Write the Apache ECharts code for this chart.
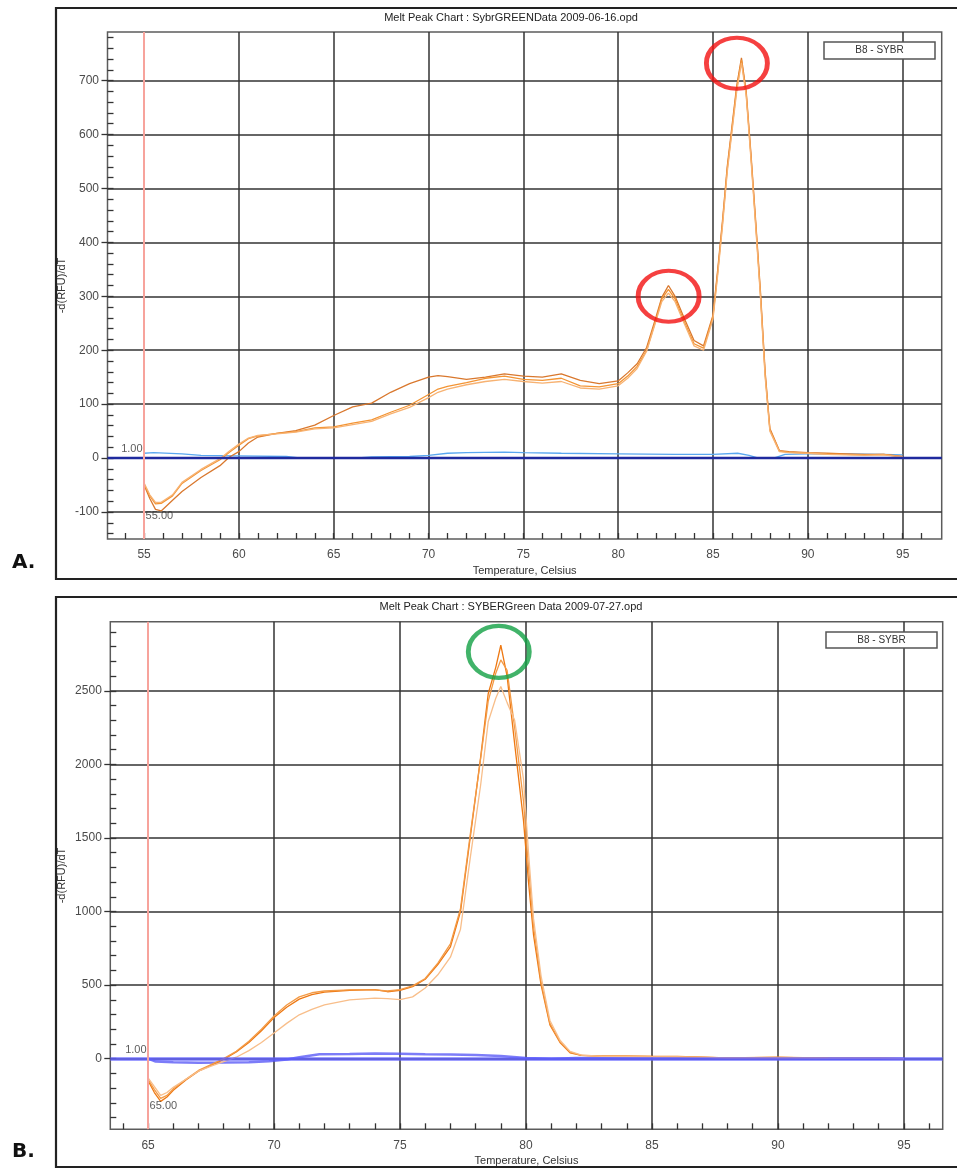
<!DOCTYPE html>
<html><head><meta charset="utf-8">
<script src="https://cdn.jsdelivr.net/npm/echarts@6/dist/echarts.min.js"></script>
<style>html,body{margin:0;padding:0;background:#fff}#c{width:957px;height:1169px}</style>
</head><body><div id="c"></div>
<script>
// ---------- DATA ----------
const TITLE_A = 'Melt Peak Chart : SybrGREENData 2009-06-16.opd';
const TITLE_B = 'Melt Peak Chart : SYBERGreen Data 2009-07-27.opd';
const LEGEND_TEXT = 'B8 - SYBR';
const X_NAME = 'Temperature, Celsius';
const Y_NAME = '-d(RFU)/dT';

// Panel A temperatures and curves
const T_A = [55.0, 55.3, 55.6, 55.9, 56.5, 57, 58, 59, 59.5, 60, 60.5, 61, 62, 63, 64, 65, 66, 67, 68, 69, 70, 70.5, 71, 72, 73, 74, 75, 76, 77, 78, 79, 80, 80.5, 81, 81.5, 82, 82.3, 82.65, 83, 83.5, 84, 84.5, 85, 85.25, 85.5, 85.75, 86, 86.25, 86.5, 86.75, 87, 87.25, 87.5, 87.75, 88, 88.5, 89, 90, 91, 92, 93, 94, 95];
const A1 = [-50, -75, -95, -98, -78, -62, -36, -14, 2, 12, 28, 39, 46, 51, 61, 79, 95, 102, 122, 138, 150, 153, 151, 146, 150, 156, 152, 150, 156, 144, 138, 143, 158, 175, 205, 262, 298, 320, 300, 258, 218, 208, 265, 350, 440, 540, 615, 690, 742, 680, 565, 440, 310, 160, 55, 14, 12, 10, 9, 8, 7, 7, 3];
const A2 = [-48, -70, -85, -84, -70, -47, -23, -3, 11, 24, 36, 41, 46, 49, 56, 58, 65, 71, 85, 98, 118, 128, 133, 140, 148, 152, 146, 144, 148, 134, 132, 138, 152, 170, 200, 258, 295, 313, 295, 252, 212, 204, 262, 345, 435, 535, 610, 685, 738, 676, 560, 435, 305, 155, 52, 13, 11, 9, 8, 7, 6, 7, 2];
const A3 = [-46, -68, -82, -82, -68, -45, -21, -1, 13, 26, 37, 42, 45, 48, 54, 56, 62, 68, 82, 94, 112, 122, 128, 136, 142, 146, 142, 139, 142, 130, 128, 134, 148, 166, 198, 255, 290, 306, 290, 248, 208, 200, 258, 340, 430, 530, 605, 680, 733, 672, 555, 430, 300, 150, 50, 12, 10, 9, 7, 6, 5, 6, 2];
const T_A_BLUE = [55, 55.5, 57, 58, 60, 62.5, 63.3, 64, 65.2, 66.1, 67, 69, 70, 71, 72, 74, 75, 77, 80, 83, 85, 86.3, 86.9, 87.4, 88.2, 88.8, 90, 92, 94, 95];
const A_BLUE = [9, 10, 8, 5, 4, 3, 0, 0, 0, 0, 2, 3, 5, 9, 10, 11, 10, 9, 8, 7, 7, 9, 5, 0, 0, 7, 8, 8, 7, 6];

// Panel B temperatures and curves
const T_B = [65.0, 65.25, 65.5, 65.75, 66, 66.5, 67, 67.5, 68, 68.5, 69, 69.5, 70, 70.5, 71, 71.5, 72, 73, 74, 74.5, 75, 75.5, 76, 76.5, 77, 77.4, 77.8, 78.2, 78.5, 78.8, 79.0, 79.25, 79.55, 79.9, 80.1, 80.3, 80.6, 80.95, 81.35, 81.75, 82.2, 83, 84, 85, 86, 88, 90, 92, 94, 95];
const B1 = [-150, -230, -290, -260, -215, -145, -85, -45, -5, 45, 110, 190, 280, 350, 405, 435, 452, 465, 470, 455, 465, 490, 540, 640, 760, 1000, 1520, 2050, 2480, 2660, 2810, 2600, 2140, 1620, 1200, 840, 500, 230, 110, 40, 22, 18, 18, 16, 15, 5, 8, 3, 2, 0];
const B2 = [-140, -210, -270, -250, -205, -140, -80, -40, 0, 50, 118, 200, 290, 365, 420, 448, 460, 468, 468, 460, 470, 495, 545, 650, 780, 1020, 1540, 2040, 2430, 2620, 2710, 2640, 2250, 1750, 1300, 900, 520, 240, 115, 45, 22, 18, 17, 15, 14, 6, 10, 4, 2, 0];
const B3 = [-130, -190, -250, -230, -195, -140, -85, -50, -20, 10, 55, 110, 175, 240, 298, 335, 365, 400, 412, 408, 402, 420, 480, 570, 690, 880, 1380, 1860, 2290, 2450, 2530, 2420, 2300, 1900, 1400, 950, 560, 260, 125, 50, 25, 15, 14, 12, 12, 5, 6, 3, 2, 0];
const T_B_BLUE = [65, 65.3, 66, 67, 68, 69, 69.8, 70.5, 71, 71.8, 73, 74, 75, 76, 77, 78, 79, 80, 81, 82, 95];
const B_BLUE = [0, -20, -25, -27, -26, -24, -18, -5, 10, 30, 32, 35, 33, 30, 28, 25, 18, 5, 0, 5, 0];

// Axis tick labels
const X_TICKS_A = [55, 60, 65, 70, 75, 80, 85, 90, 95];
const Y_TICKS_A = [-100, 0, 100, 200, 300, 400, 500, 600, 700];
const X_TICKS_B = [65, 70, 75, 80, 85, 90, 95];
const Y_TICKS_B = [0, 500, 1000, 1500, 2000, 2500];
const X_MINOR_A = [54, 96, 1];
const Y_MINOR_A = [-140, 780, 20];
const X_MINOR_B = [64, 96, 1];
const Y_MINOR_B = [-400, 2900, 100];

// Annotations
const CURSOR_X_A = 55, CURSOR_X_B = 65;
const LABELS_A = [[55, 0, '1.00'], [55, -108, '55.00']];
const LABELS_B = [[65, 0, '1.00'], [65, -319, '65.00']];
const CIRCLES_A = [[86.26, 732], [82.66, 300]];
const CIRCLES_B = [[78.92, 2765]];

// ---------- LAYOUT ----------
const FONT = '"Liberation Sans", Arial, sans-serif';
const PANEL_A = {left: 107.5, top: 32, right: 941.7, bottom: 539, xMin: 53.07, xMax: 97.06, yMin: -150, yMax: 790, yNameGap: 40,
  xTicks: X_TICKS_A, yTicks: Y_TICKS_A, xMinor: X_MINOR_A, yMinor: Y_MINOR_A, cursor: CURSOR_X_A, labels: LABELS_A, circles: CIRCLES_A,
  circleColor: '#f21010', circleSize: [61, 51],
  curves: [[T_A, A1, '#d9782e'], [T_A, A2, '#f39433'], [T_A, A3, '#f7b272']],
  blue: [T_A_BLUE, A_BLUE, '#5aa8f0', 1.3], zeroColor: '#1f2a9e', zeroWidth: 2.4};
const PANEL_B = {left: 110.3, top: 621.7, right: 942.7, bottom: 1129.3, xMin: 63.5, xMax: 96.54, yMin: -480, yMax: 2970, yNameGap: 43,
  xTicks: X_TICKS_B, yTicks: Y_TICKS_B, xMinor: X_MINOR_B, yMinor: Y_MINOR_B, cursor: CURSOR_X_B, labels: LABELS_B, circles: CIRCLES_B,
  circleColor: '#12a043', circleSize: [61, 52],
  curves: [[T_B, B1, '#ee7812'], [T_B, B2, '#f39a45'], [T_B, B3, '#f8be8a']],
  blue: [T_B_BLUE, B_BLUE, 'rgba(80,80,245,0.75)', 2.5], zeroColor: 'rgba(95,95,255,0.8)', zeroWidth: 3.5};

const zip = (xs, ys) => xs.map((x, i) => [x, ys[i]]);
const ELLIPSE = 'path://M0,50A50,50 0 1,1 100,50A50,50 0 1,1 0,50Z';

const out = {grid: [], xAxis: [], yAxis: [], series: []};
const hidden = {axisLine: {show: false}, axisTick: {show: false}, axisLabel: {show: false}, splitLine: {show: false}};
const labelStyle = {fontFamily: FONT, fontSize: 12, color: '#4a4a4a', formatter: v => String(v)};

function addPanel(P) {
  const W = P.right - P.left, H = P.bottom - P.top;
  const px = v => P.left + (v - P.xMin) / (P.xMax - P.xMin) * W;
  const py = v => P.top + (P.yMax - v) / (P.yMax - P.yMin) * H;
  const b = out.grid.length;
  const xt = P.xTicks, yt = P.yTicks;
  // 0: plot grid (data)
  out.grid.push({left: P.left, top: P.top, width: W, height: H, show: true, borderColor: '#5c5c5c', borderWidth: 1.5, outerBoundsMode: 'none'});
  out.xAxis.push(Object.assign({gridIndex: b, type: 'value', min: P.xMin, max: P.xMax, name: X_NAME, nameLocation: 'middle', nameGap: 26,
    nameTextStyle: {fontFamily: FONT, fontSize: 11, color: '#333'}}, hidden));
  out.yAxis.push(Object.assign({gridIndex: b, type: 'value', min: P.yMin, max: P.yMax, name: Y_NAME, nameLocation: 'middle', nameGap: P.yNameGap,
    nameTextStyle: {fontFamily: FONT, fontSize: 11, color: '#333'}}, hidden));
  // 1: x major
  out.grid.push({left: px(xt[0]), width: px(xt[xt.length - 1]) - px(xt[0]), top: P.top, height: H, outerBoundsMode: 'none'});
  out.xAxis.push({gridIndex: b + 1, type: 'value', min: xt[0], max: xt[xt.length - 1], interval: xt[1] - xt[0],
    axisLine: {show: false}, axisTick: {show: false}, axisLabel: Object.assign({show: true, margin: 10}, labelStyle),
    splitLine: {show: true, lineStyle: {color: '#333', width: 1.5}}});
  out.yAxis.push({gridIndex: b + 1, type: 'value', show: false});
  // 2: y major
  out.grid.push({left: P.left, width: W, top: py(yt[yt.length - 1]), height: py(yt[0]) - py(yt[yt.length - 1]), outerBoundsMode: 'none'});
  out.xAxis.push({gridIndex: b + 2, type: 'value', show: false});
  out.yAxis.push({gridIndex: b + 2, type: 'value', min: yt[0], max: yt[yt.length - 1], interval: yt[1] - yt[0],
    axisLine: {show: false}, axisTick: {show: true, inside: false, length: 6, lineStyle: {color: '#333', width: 1.3}},
    axisLabel: Object.assign({show: true, margin: 8.5}, labelStyle),
    splitLine: {show: true, lineStyle: {color: '#333', width: 1.5}}});
  // 3: x minor ticks
  const xm = P.xMinor, ym = P.yMinor;
  out.grid.push({left: px(xm[0]), width: px(xm[1]) - px(xm[0]), top: P.top, height: H, outerBoundsMode: 'none'});
  out.xAxis.push({gridIndex: b + 3, type: 'value', min: xm[0], max: xm[1], interval: xm[2],
    axisLine: {show: false}, axisLabel: {show: false}, splitLine: {show: false},
    axisTick: {show: true, inside: true, length: 6, lineStyle: {color: '#333', width: 1.3}}});
  out.yAxis.push({gridIndex: b + 3, type: 'value', show: false});
  // 4: y minor ticks
  out.grid.push({left: P.left, width: W, top: py(ym[1]), height: py(ym[0]) - py(ym[1]), outerBoundsMode: 'none'});
  out.xAxis.push({gridIndex: b + 4, type: 'value', show: false});
  out.yAxis.push({gridIndex: b + 4, type: 'value', min: ym[0], max: ym[1], interval: ym[2],
    axisLine: {show: false}, axisLabel: {show: false}, splitLine: {show: false},
    axisTick: {show: true, inside: true, length: 6, lineStyle: {color: '#333', width: 1.3}}});

  const ax = {xAxisIndex: b, yAxisIndex: b};
  // blue trace + zero line + cursor line
  out.series.push(Object.assign({type: 'line', data: zip(P.blue[0], P.blue[1]), showSymbol: false, symbol: 'none', silent: true,
    lineStyle: {color: P.blue[2], width: P.blue[3]}, z: 2,
    markLine: {silent: true, symbol: ['none', 'none'], label: {show: false}, animation: false,
      data: [
        {yAxis: 0, lineStyle: {color: P.zeroColor, width: P.zeroWidth, type: 'solid'}},
        {xAxis: P.cursor, lineStyle: {color: '#f7a39c', width: 2, type: 'solid'}}
      ]}}, ax));
  // orange curves
  P.curves.forEach(c => out.series.push(Object.assign({type: 'line', data: zip(c[0], c[1]), symbol: 'none', silent: true,
    lineStyle: {color: c[2], width: 1.3}, z: 3}, ax)));
  // cursor labels
  P.labels.forEach((l, i) => out.series.push(Object.assign({type: 'scatter', data: [[l[0], l[1]]], symbolSize: 1, silent: true,
    itemStyle: {color: 'rgba(0,0,0,0)'}, z: 6,
    label: {show: true, formatter: l[2], position: i === 0 ? 'left' : 'right', distance: 1, offset: i === 0 ? [0, -9] : [0, 0],
      fontFamily: FONT, fontSize: 11, color: '#333'}}, ax)));
  // annotation circles
  out.series.push(Object.assign({type: 'scatter', data: P.circles, symbol: ELLIPSE, symbolSize: P.circleSize, silent: true, z: 10,
    itemStyle: {color: 'rgba(0,0,0,0)', borderColor: P.circleColor, borderWidth: 4.5}}, ax));
}
addPanel(PANEL_A);
addPanel(PANEL_B);

function txt(x, y, text, font, fill, align) {
  return {type: 'text', x: x, y: y, z: 20, style: {text: text, font: font, fill: fill || '#222',
    align: align || 'center', verticalAlign: 'middle', textAlign: align || 'center', textVerticalAlign: 'middle'}};
}
function box(x, y, w, h, stroke, lw) {
  return {type: 'rect', z: 20, shape: {x: x, y: y, width: w, height: h}, style: {fill: 'none', stroke: stroke, lineWidth: lw}};
}
const graphic = [
  box(56, 8, 1000, 571, '#222', 2.2),
  box(56, 597, 1000, 570, '#222', 2.2),
  txt(511, 18, TITLE_A, '11px ' + FONT, '#222'),
  txt(511, 607, TITLE_B, '11px ' + FONT, '#222'),
  {type: 'rect', z: 20, shape: {x: 824, y: 42, width: 111, height: 17}, style: {fill: '#fff', stroke: '#555', lineWidth: 1.5}},
  txt(879.5, 50.5, LEGEND_TEXT, '10px ' + FONT, '#333'),
  {type: 'rect', z: 20, shape: {x: 826, y: 632, width: 111, height: 16}, style: {fill: '#fff', stroke: '#555', lineWidth: 1.5}},
  txt(881.5, 640, LEGEND_TEXT, '10px ' + FONT, '#333'),
  txt(12, 563, 'A.', 'bold 20px "DejaVu Sans", Verdana, sans-serif', '#111', 'left'),
  txt(12, 1152, 'B.', 'bold 20px "DejaVu Sans", Verdana, sans-serif', '#111', 'left')
];

const chart = echarts.init(document.getElementById('c'), null, {renderer: 'canvas'});
chart.setOption({
  animation: false,
  backgroundColor: '#fff',
  grid: out.grid, xAxis: out.xAxis, yAxis: out.yAxis, series: out.series,
  graphic: graphic
});
</script></body></html>
